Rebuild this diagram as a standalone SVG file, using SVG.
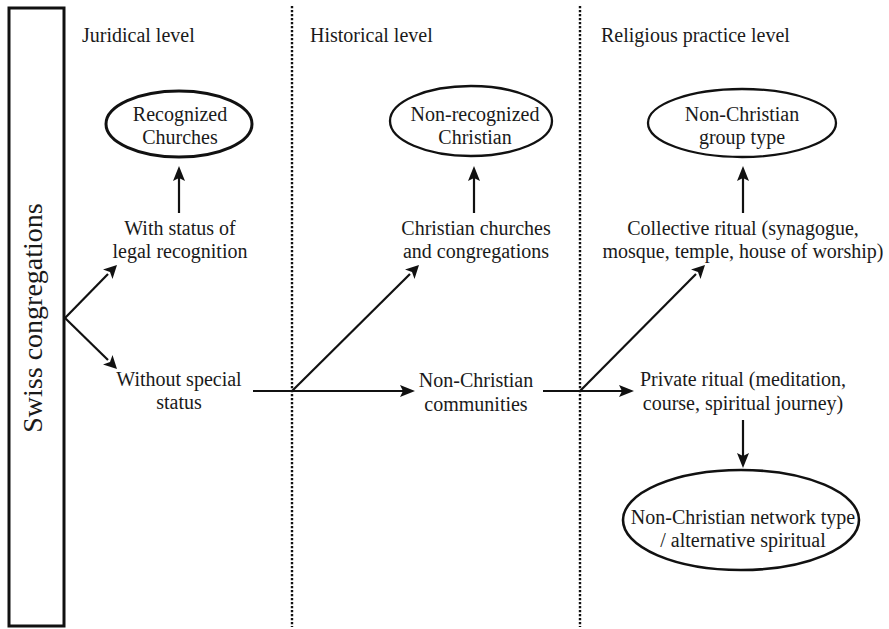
<svg xmlns="http://www.w3.org/2000/svg" width="889" height="629" viewBox="0 0 889 629">
<style>
text{font-family:'Liberation Serif','Times New Roman',serif;fill:#1a1a1a;text-anchor:middle}
.h{font-size:20px;text-anchor:start}
.t{font-size:20px}
.e{fill:#fff;stroke:#111;stroke-width:2.3}
.c{stroke:#111;stroke-width:2.2;fill:none}
.d{stroke:#111;stroke-width:2.4;stroke-dasharray:2.2 1.8;fill:none}
.a{fill:#111}
</style>
<rect width="889" height="629" fill="#fff"/>
<g id="dividers">
<line class="d" x1="292" y1="6" x2="292" y2="627"/>
<line class="d" x1="580" y1="6" x2="580" y2="627"/>
</g>
<g id="headers">
<text class="h" x="82" y="42">Juridical level</text>
<text class="h" x="310" y="42">Historical level</text>
<text class="h" x="601" y="42">Religious practice level</text>
</g>
<g id="swiss">
<rect x="9" y="8" width="55" height="618" fill="#fff" stroke="#111" stroke-width="3"/>
<text transform="translate(42,318) rotate(-90)" font-size="28">Swiss congregations</text>
</g>
<g id="recognized">
<ellipse class="e" cx="179" cy="124" rx="73" ry="33" style="stroke-width:3"/>
<text class="t" x="180" y="121">Recognized</text>
<text class="t" x="180" y="144">Churches</text>
</g>
<g id="withstatus">
<text class="t" x="180" y="235">With status of</text>
<text class="t" x="180" y="258">legal recognition</text>
</g>
<g id="withoutstatus">
<text class="t" x="179" y="386">Without special</text>
<text class="t" x="179" y="409">status</text>
</g>
<g id="nonrecognized">
<ellipse class="e" cx="471" cy="121" rx="81" ry="35"/>
<text class="t" x="475" y="121">Non-recognized</text>
<text class="t" x="475" y="144">Christian</text>
</g>
<g id="christian">
<text class="t" x="476" y="235">Christian churches</text>
<text class="t" x="476" y="258">and congregations</text>
</g>
<g id="nonchristian">
<text class="t" x="476" y="387">Non-Christian</text>
<text class="t" x="476" y="411">communities</text>
</g>
<g id="grouptype">
<ellipse class="e" cx="742" cy="123" rx="94" ry="34"/>
<text class="t" x="742" y="121">Non-Christian</text>
<text class="t" x="742" y="144">group type</text>
</g>
<g id="collective">
<text class="t" x="743" y="235">Collective ritual (synagogue,</text>
<text class="t" x="743" y="258">mosque, temple, house of worship)</text>
</g>
<g id="private">
<text class="t" x="743" y="386">Private ritual (meditation,</text>
<text class="t" x="743" y="410">course, spiritual journey)</text>
</g>
<g id="networktype">
<ellipse class="e" cx="741" cy="520" rx="118" ry="50" style="stroke-width:2.6"/>
<text class="t" x="743" y="524">Non-Christian network type</text>
<text class="t" x="743" y="547">/ alternative spiritual</text>
</g>
<g id="connectors">
<line class="c" x1="65" y1="318" x2="108" y2="274"/>
<polygon class="a" points="117,265 112.5,279 110,272 103,269.5"/>
<line class="c" x1="65" y1="318" x2="108" y2="360"/>
<polygon class="a" points="117,369 103,364.5 110,362 112.5,355"/>
<line class="c" x1="179" y1="213" x2="179" y2="176"/>
<polygon class="a" points="179,166 185,181 179,178 173,181"/>
<line class="c" x1="253" y1="391" x2="406" y2="391"/>
<polygon class="a" points="415,391 400,397 403,391 400,385"/>
<line class="c" x1="292" y1="391" x2="410" y2="274"/>
<polygon class="a" points="419,265 414.5,279 412,272 405,269.5"/>
<line class="c" x1="474" y1="213" x2="474" y2="176"/>
<polygon class="a" points="474,166 480,181 474,178 468,181"/>
<line class="c" x1="543" y1="391" x2="625" y2="391"/>
<polygon class="a" points="634,391 619,397 622,391 619,385"/>
<line class="c" x1="580" y1="391" x2="696" y2="274"/>
<polygon class="a" points="705,265 700.5,279 698,272 691,269.5"/>
<line class="c" x1="743" y1="213" x2="743" y2="176"/>
<polygon class="a" points="743,166 749,181 743,178 737,181"/>
<line class="c" x1="743" y1="420" x2="743" y2="458"/>
<polygon class="a" points="743,468 737,453 743,456 749,453"/>
</g>
</svg>
